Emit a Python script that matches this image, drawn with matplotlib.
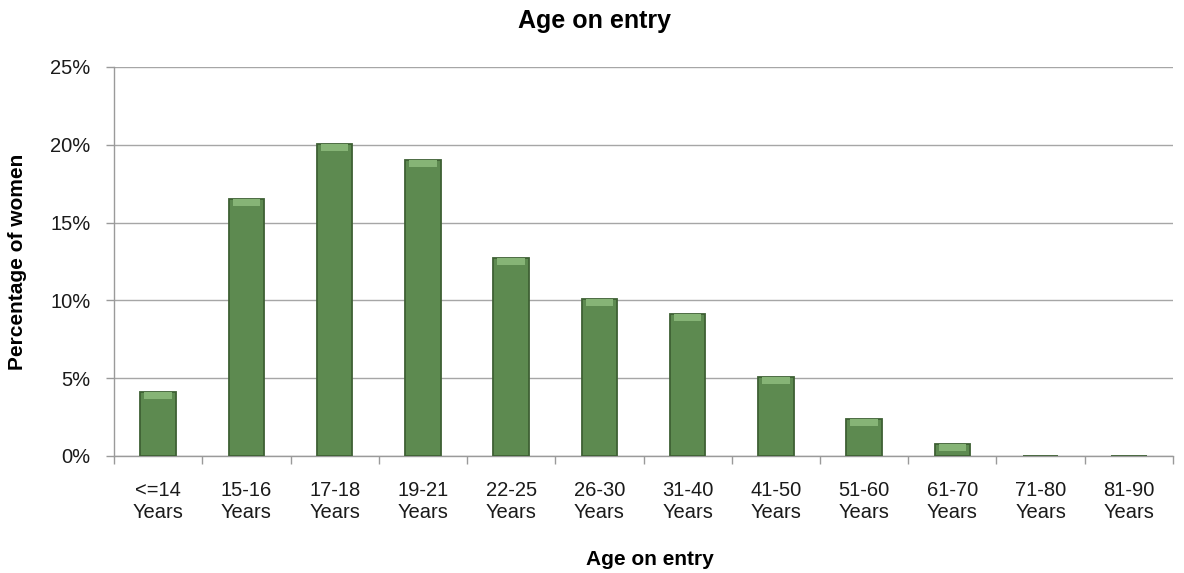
import numpy as np
import matplotlib
matplotlib.use('Agg')
from matplotlib import pyplot as plt
from matplotlib.ticker import FuncFormatter, FixedLocator

categories = ['<=14\nYears', '15-16\nYears', '17-18\nYears', '19-21\nYears',
              '22-25\nYears', '26-30\nYears', '31-40\nYears', '41-50\nYears',
              '51-60\nYears', '61-70\nYears', '71-80\nYears', '81-90\nYears']
percent = [4.1, 16.5, 20.05, 19.0, 12.7, 10.1, 9.1, 5.1, 2.4, 0.8, 0.0, 0.0]
y_ticks = [0, 5, 10, 15, 20, 25]

plt.rcParams['font.family'] = ['Liberation Sans', 'DejaVu Sans']

fig = plt.figure(figsize=(11.84, 5.73), dpi=100)
ax = fig.add_axes([0.0963, 0.2042, 0.8944, 0.6789])

x = np.arange(len(categories))
width = 0.40
ax.bar(x, percent, width=width, color='#5d8a50', edgecolor='#3e6034',
       linewidth=1.3, zorder=3)
# lighter bevel strip on top of each bar
bevel = np.minimum(percent, 0.45)
ax.bar(x, bevel, width=width * 0.78, bottom=np.array(percent) - bevel,
       color='#86b476', linewidth=0, zorder=4)

ax.set_xlim(-0.5, len(categories) - 0.5)
ax.set_ylim(0, 25)
ax.set_yticks(y_ticks)
ax.yaxis.set_major_formatter(FuncFormatter(lambda v, p: '%d%%' % v))
ax.set_xticks(x)
ax.set_xticklabels(categories, linespacing=1.2)
ax.xaxis.set_minor_locator(FixedLocator(np.arange(-0.5, len(categories), 1.0)))
ax.tick_params(axis='x', which='major', length=0, pad=18, labelsize=14.5, labelcolor='#1a1a1a')
ax.tick_params(axis='x', which='minor', length=6, color='#9a9a9a', width=1)
ax.tick_params(axis='y', length=6, color='#9a9a9a', width=1, labelsize=14.5,
               labelcolor='#1a1a1a', pad=11)

ax.grid(axis='y', color='#a6a6a6', linewidth=1, zorder=0)
for s in ['top', 'right']:
    ax.spines[s].set_visible(False)
for s in ['left', 'bottom']:
    ax.spines[s].set_color('#9a9a9a')
    ax.spines[s].set_linewidth(1)

ax.set_ylabel('Percentage of women', fontsize=15, fontweight='bold', va='center')
ax.yaxis.set_label_coords(-0.0907, 0.5)
ax.set_xlabel('Age on entry', fontsize=15, fontweight='bold', va='center')
ax.xaxis.set_label_coords(0.506, -0.265)
fig.text(0.5025, 0.963, 'Age on entry', ha='center', va='center',
         fontsize=18, fontweight='bold')

fig.savefig('out.png', dpi=100)
